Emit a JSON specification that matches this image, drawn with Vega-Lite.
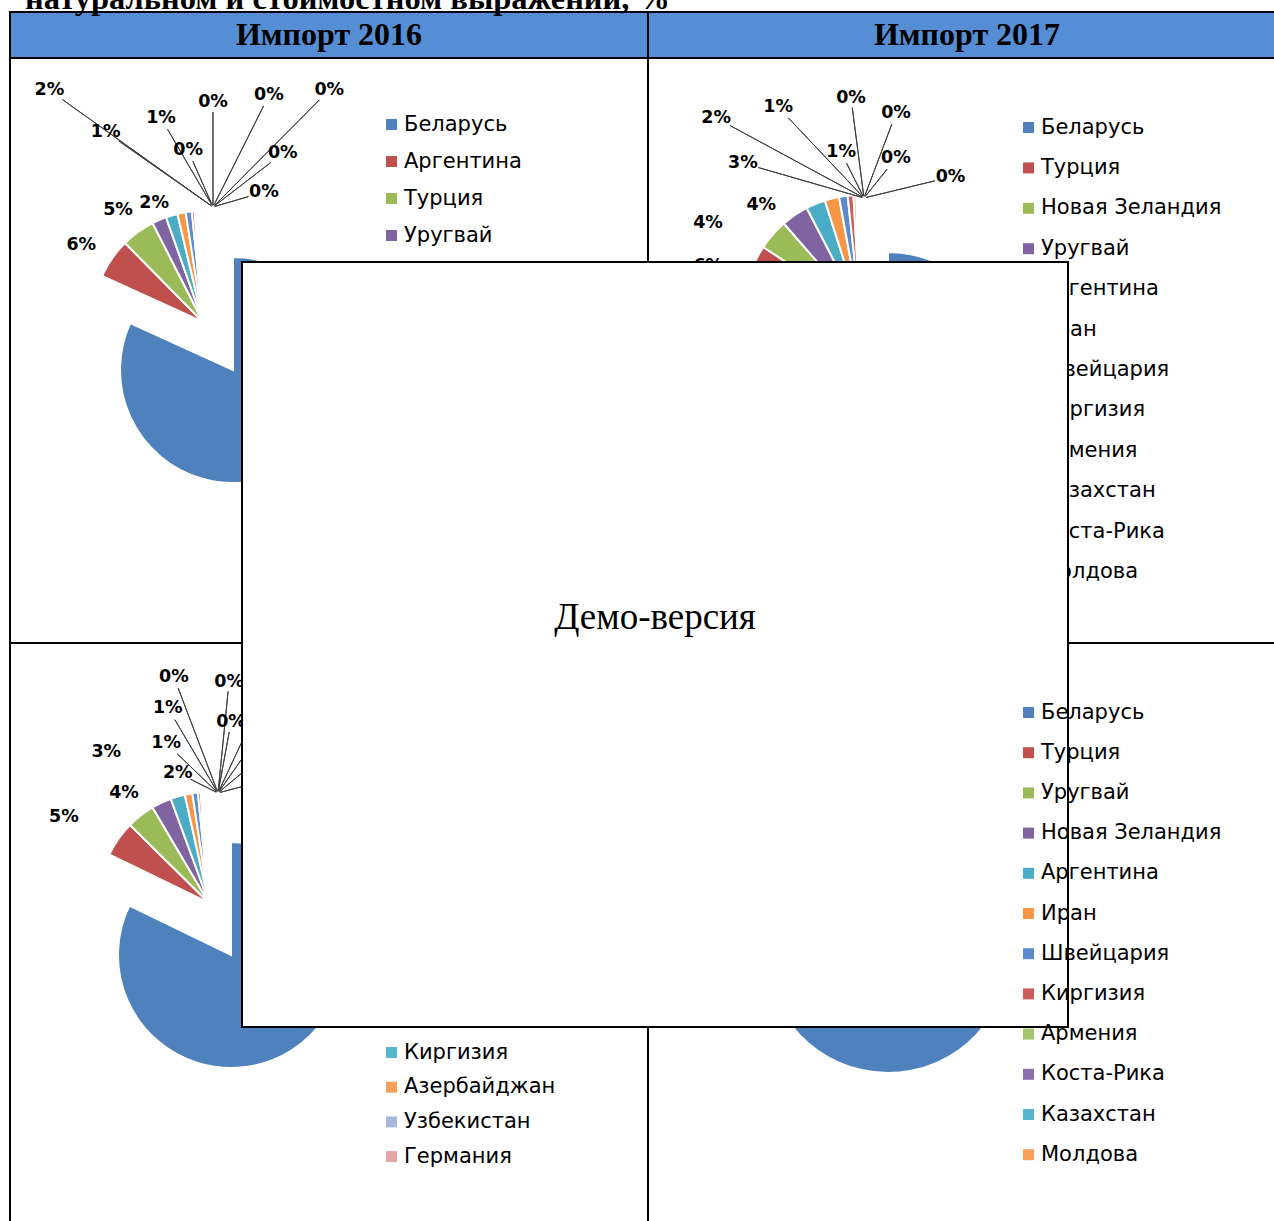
{
  "$schema": "https://vega.github.io/schema/vega-lite/v6.json",
  "padding": {"left": 9, "top": -18, "right": 0, "bottom": 0},
  "title": {"text": "натуральном и стоимостном выражении, %", "anchor": "start", "font": "Liberation Serif", "fontSize": 32.5, "fontWeight": "bold", "color": "#000", "offset": -30, "dx": 16, "baseline": "alphabetic"},
  "config": {"view": {"stroke": "#000", "strokeWidth": 2}, "concat": {"spacing": 0}},
  "datasets": {
    "imp2016": [
      {"country": "Беларусь", "share": 0.818, "order": 1},
      {"country": "Аргентина", "share": 0.058, "order": 2},
      {"country": "Турция", "share": 0.049, "order": 3},
      {"country": "Уругвай", "share": 0.021, "order": 4},
      {"country": "Новая Зеландия", "share": 0.017, "order": 5},
      {"country": "Киргизия", "share": 0.012, "order": 6},
      {"country": "Иран", "share": 0.009, "order": 7},
      {"country": "Армения", "share": 0.004, "order": 8},
      {"country": "Казахстан", "share": 0.003, "order": 9},
      {"country": "Азербайджан", "share": 0.003, "order": 10},
      {"country": "Швейцария", "share": 0.002, "order": 11},
      {"country": "Узбекистан", "share": 0.002, "order": 12},
      {"country": "Германия", "share": 0.002, "order": 13}
    ],
    "imp2017": [
      {"country": "Беларусь", "share": 0.781, "order": 1},
      {"country": "Турция", "share": 0.062, "order": 2},
      {"country": "Новая Зеландия", "share": 0.043, "order": 3},
      {"country": "Уругвай", "share": 0.038, "order": 4},
      {"country": "Аргентина", "share": 0.027, "order": 5},
      {"country": "Иран", "share": 0.020, "order": 6},
      {"country": "Швейцария", "share": 0.012, "order": 7},
      {"country": "Киргизия", "share": 0.008, "order": 8},
      {"country": "Армения", "share": 0.004, "order": 9},
      {"country": "Казахстан", "share": 0.002, "order": 10},
      {"country": "Коста-Рика", "share": 0.002, "order": 11},
      {"country": "Молдова", "share": 0.001, "order": 12}
    ],
    "val2016": [
      {"country": "Беларусь", "share": 0.822, "order": 1},
      {"country": "Аргентина", "share": 0.052, "order": 2},
      {"country": "Турция", "share": 0.041, "order": 3},
      {"country": "Уругвай", "share": 0.029, "order": 4},
      {"country": "Новая Зеландия", "share": 0.021, "order": 5},
      {"country": "Иран", "share": 0.011, "order": 6},
      {"country": "Армения", "share": 0.008, "order": 7},
      {"country": "Казахстан", "share": 0.004, "order": 8},
      {"country": "Швейцария", "share": 0.003, "order": 9},
      {"country": "Молдова", "share": 0.003, "order": 10},
      {"country": "Киргизия", "share": 0.002, "order": 11},
      {"country": "Азербайджан", "share": 0.002, "order": 12},
      {"country": "Узбекистан", "share": 0.001, "order": 13},
      {"country": "Германия", "share": 0.001, "order": 14}
    ],
    "val2017": [
      {"country": "Беларусь", "share": 0.800, "order": 1},
      {"country": "Турция", "share": 0.060, "order": 2},
      {"country": "Уругвай", "share": 0.040, "order": 3},
      {"country": "Новая Зеландия", "share": 0.030, "order": 4},
      {"country": "Аргентина", "share": 0.025, "order": 5},
      {"country": "Иран", "share": 0.015, "order": 6},
      {"country": "Швейцария", "share": 0.010, "order": 7},
      {"country": "Киргизия", "share": 0.008, "order": 8},
      {"country": "Армения", "share": 0.005, "order": 9},
      {"country": "Коста-Рика", "share": 0.003, "order": 10},
      {"country": "Казахстан", "share": 0.002, "order": 11},
      {"country": "Молдова", "share": 0.002, "order": 12}
    ]
  },
  "columns": 2,
  "spacing": 0,
  "bounds": "flush",
  "resolve": {"scale": {"color": "independent", "theta": "independent", "radius": "independent"}, "legend": {"color": "independent"}},
  "concat": [
    {
      "width": 638, "height": 46,
      "view": {"fill": "#558ED5", "stroke": "#000", "strokeWidth": 2},
      "data": {"values": [{"h": "Импорт 2016"}]},
      "mark": {"type": "text", "font": "Liberation Serif", "fontSize": 32, "fontWeight": "bold", "color": "#000"},
      "encoding": {"text": {"field": "h"}}
    },
    {
      "width": 638, "height": 46,
      "view": {"fill": "#558ED5", "stroke": "#000", "strokeWidth": 2},
      "data": {"values": [{"h": "Импорт 2017"}]},
      "mark": {"type": "text", "font": "Liberation Serif", "fontSize": 32, "fontWeight": "bold", "color": "#000"},
      "encoding": {"text": {"field": "h"}}
    },
    {
      "width": 638, "height": 585,
      "view": {"stroke": "#000", "strokeWidth": 2},
      "data": {"name": "imp2016"},
      "transform": [{"stack": "share", "groupby": [], "sort": [{"field": "order", "order": "ascending"}], "offset": "normalize", "as": ["t0", "t1"]}],
      "layer": [
        {
          "transform": [{"filter": "datum.order == 1"}],
          "mark": {"type": "arc", "x": 223, "y": 312, "radius": 113, "stroke": "#fff", "strokeWidth": 2},
          "encoding": {
            "theta": {"field": "t0", "type": "quantitative", "stack": null, "scale": {"domain": [0, 1], "range": [0, 6.2832]}},
            "theta2": {"field": "t1"},
            "color": {"field": "country", "type": "nominal",
              "scale": {"domain": ["Беларусь","Аргентина","Турция","Уругвай","Новая Зеландия","Киргизия","Иран","Армения","Казахстан","Азербайджан","Швейцария","Узбекистан","Германия"],
                        "range": ["#4F81BD","#C0504D","#9BBB59","#8064A2","#4BACC6","#F79646","#5B8BCB","#CB5D5A","#A5C46B","#8B70AE","#57B6CF","#F8A05A","#A7B8DD"]},
              "legend": {"orient": "none", "legendX": 371, "legendY": 56, "title": null, "symbolType": "square", "symbolSize": 121, "symbolStrokeWidth": 0, "labelFont": "DejaVu Sans", "labelFontSize": 21, "labelColor": "#000", "labelOffset": 2, "rowPadding": 15, "padding": 0, "labelLimit": 400}}
          }
        },
        {
          "transform": [{"filter": "datum.order > 1"}],
          "mark": {"type": "arc", "x": 193, "y": 264, "radius": 111, "stroke": "#fff", "strokeWidth": 2},
          "encoding": {
            "theta": {"field": "t0", "type": "quantitative", "stack": null, "scale": {"domain": [0, 1], "range": [0, 6.2832]}},
            "theta2": {"field": "t1"},
            "color": {"field": "country", "type": "nominal"}
          }
        },
        {
          "transform": [{"filter": "datum.order >= 5"}],
          "mark": {"type": "arc", "x": 203, "y": 149, "radius2": 2, "filled": false, "stroke": "#404040", "strokeWidth": 1},
          "encoding": {
            "theta": {"field": "order", "type": "quantitative", "stack": null, "scale": {"type": "linear", "zero": false, "nice": false, "domain": [5,6,7,8,9,10,11,12,13], "range": [-0.951,-0.960,-0.529,-0.414,0,0.464,0.782,0.915,1.285]}},
            "theta2": {"field": "order"},
            "radius": {"field": "order", "type": "quantitative", "scale": {"type": "linear", "zero": false, "nice": false, "domain": [5,6,7,8,9,10,11,12,13], "range": [185,115,90,50,95,113,151,73,37]}}
          }
        },
        {
          "mark": {"type": "text", "x": 203, "y": 149, "font": "DejaVu Sans", "fontWeight": "bold", "fontSize": 17.5, "color": "#000"},
          "encoding": {
            "theta": {"field": "order", "type": "quantitative", "stack": null, "scale": {"type": "linear", "zero": false, "nice": false, "domain": [1,2,3,4,5,6,7,8,9,10,11,12,13], "range": [2.635,-1.850,-1.602,-1.501,-0.951,-0.960,-0.529,-0.414,0,0.464,0.782,0.915,1.285]}},
            "radius": {"field": "order", "type": "quantitative", "scale": {"type": "linear", "zero": false, "nice": false, "domain": [1,2,3,4,5,6,7,8,9,10,11,12,13], "range": [243,137,95,59,201,131,103,62,105,125,165,88,53]}},
            "text": {"field": "share", "type": "quantitative", "format": ".0%"}
          }
        }
      ],
      "resolve": {"scale": {"theta": "independent", "radius": "independent"}}
    },
    {
      "width": 638, "height": 585,
      "view": {"stroke": "#000", "strokeWidth": 2},
      "data": {"name": "imp2017"},
      "transform": [{"stack": "share", "groupby": [], "sort": [{"field": "order", "order": "ascending"}], "offset": "normalize", "as": ["t0", "t1"]}],
      "layer": [
        {
          "transform": [{"filter": "datum.order == 1"}],
          "mark": {"type": "arc", "x": 240, "y": 312, "radius": 118, "stroke": "#fff", "strokeWidth": 2},
          "encoding": {
            "theta": {"field": "t0", "type": "quantitative", "stack": null, "scale": {"domain": [0, 1], "range": [0, 6.2832]}},
            "theta2": {"field": "t1"},
            "color": {"field": "country", "type": "nominal",
              "scale": {"domain": ["Беларусь","Турция","Новая Зеландия","Уругвай","Аргентина","Иран","Швейцария","Киргизия","Армения","Казахстан","Коста-Рика","Молдова"],
                        "range": ["#4F81BD","#C0504D","#9BBB59","#8064A2","#4BACC6","#F79646","#5B8BCB","#CB5D5A","#A5C46B","#8B70AE","#57B6CF","#F8A05A"]},
              "legend": {"orient": "none", "legendX": 370, "legendY": 59, "title": null, "symbolType": "square", "symbolSize": 121, "symbolStrokeWidth": 0, "labelFont": "DejaVu Sans", "labelFontSize": 21, "labelColor": "#000", "labelOffset": 2, "rowPadding": 18.4, "padding": 0, "labelLimit": 400}}
          }
        },
        {
          "transform": [{"filter": "datum.order > 1"}],
          "mark": {"type": "arc", "x": 212, "y": 253, "radius": 116, "stroke": "#fff", "strokeWidth": 2},
          "encoding": {
            "theta": {"field": "t0", "type": "quantitative", "stack": null, "scale": {"domain": [0, 1], "range": [0, 6.2832]}},
            "theta2": {"field": "t1"},
            "color": {"field": "country", "type": "nominal"}
          }
        },
        {
          "transform": [{"filter": "datum.order >= 5"}],
          "mark": {"type": "arc", "x": 216, "y": 140, "radius2": 2, "filled": false, "stroke": "#404040", "strokeWidth": 1},
          "encoding": {
            "theta": {"field": "order", "type": "quantitative", "stack": null, "scale": {"type": "linear", "zero": false, "nice": false, "domain": [5,6,7,8,9,10,11,12], "range": [-1.290,-1.075,-0.757,-0.464,-0.129,0.360,0.675,1.333]}},
            "theta2": {"field": "order"},
            "radius": {"field": "order", "type": "quantitative", "scale": {"type": "linear", "zero": false, "nice": false, "domain": [5,6,7,8,9,10,11,12], "range": [110,152,110,39,91,79,37,73]}}
          }
        },
        {
          "mark": {"type": "text", "x": 216, "y": 140, "font": "DejaVu Sans", "fontWeight": "bold", "fontSize": 17.5, "color": "#000"},
          "encoding": {
            "theta": {"field": "order", "type": "quantitative", "stack": null, "scale": {"type": "linear", "zero": false, "nice": false, "domain": [1,2,3,4,5,6,7,8,9,10,11,12], "range": [2.588,-1.983,-1.730,-1.639,-1.290,-1.075,-0.757,-0.464,-0.129,0.360,0.675,1.333]}},
            "radius": {"field": "order", "type": "quantitative", "scale": {"type": "linear", "zero": false, "nice": false, "domain": [1,2,3,4,5,6,7,8,9,10,11,12], "range": [261,170,158,103,126,168,125,51,101,91,51,89]}},
            "text": {"field": "share", "type": "quantitative", "format": ".0%"}
          }
        }
      ],
      "resolve": {"scale": {"theta": "independent", "radius": "independent"}}
    },
    {
      "width": 638, "height": 585,
      "view": {"stroke": "#000", "strokeWidth": 2},
      "data": {"name": "val2016"},
      "transform": [{"stack": "share", "groupby": [], "sort": [{"field": "order", "order": "ascending"}], "offset": "normalize", "as": ["t0", "t1"]}],
      "layer": [
        {
          "transform": [{"filter": "datum.order == 1"}],
          "mark": {"type": "arc", "x": 221, "y": 312, "radius": 113, "stroke": "#fff", "strokeWidth": 2},
          "encoding": {
            "theta": {"field": "t0", "type": "quantitative", "stack": null, "scale": {"domain": [0, 1], "range": [0, 6.2832]}},
            "theta2": {"field": "t1"},
            "color": {"field": "country", "type": "nominal",
              "scale": {"domain": ["Беларусь","Аргентина","Турция","Уругвай","Новая Зеландия","Иран","Армения","Казахстан","Швейцария","Молдова","Киргизия","Азербайджан","Узбекистан","Германия"],
                        "range": ["#4F81BD","#C0504D","#9BBB59","#8064A2","#4BACC6","#F79646","#5B8BCB","#CB5D5A","#A5C46B","#8B70AE","#57B6CF","#F8A05A","#A7B8DD","#E2A6A5"]},
              "legend": {"orient": "none", "legendX": 371, "legendY": 52, "title": null, "symbolType": "square", "symbolSize": 121, "symbolStrokeWidth": 0, "labelFont": "DejaVu Sans", "labelFontSize": 21, "labelColor": "#000", "labelOffset": 2, "rowPadding": 12.7, "padding": 0, "labelLimit": 400}}
          }
        },
        {
          "transform": [{"filter": "datum.order > 1"}],
          "mark": {"type": "arc", "x": 199, "y": 260, "radius": 111, "stroke": "#fff", "strokeWidth": 2},
          "encoding": {
            "theta": {"field": "t0", "type": "quantitative", "stack": null, "scale": {"domain": [0, 1], "range": [0, 6.2832]}},
            "theta2": {"field": "t1"},
            "color": {"field": "country", "type": "nominal"}
          }
        },
        {
          "transform": [{"filter": "datum.order >= 5"}],
          "mark": {"type": "arc", "x": 208, "y": 150, "radius2": 2, "filled": false, "stroke": "#404040", "strokeWidth": 1},
          "encoding": {
            "theta": {"field": "order", "type": "quantitative", "stack": null, "scale": {"type": "linear", "zero": false, "nice": false, "domain": [5,6,7,8,9,10,11,12,13,14], "range": [-1.107,-0.805,-0.532,-0.363,0.099,0.182,0.436,0.611,0.873,1.309]}},
            "theta2": {"field": "order"},
            "radius": {"field": "order", "type": "quantitative", "scale": {"type": "linear", "zero": false, "nice": false, "domain": [5,6,7,8,9,10,11,12,13,14], "range": [31,56,85,112,102,62,98,82,66,59]}}
          }
        },
        {
          "mark": {"type": "text", "x": 208, "y": 150, "font": "DejaVu Sans", "fontWeight": "bold", "fontSize": 17.5, "color": "#000"},
          "encoding": {
            "theta": {"field": "order", "type": "quantitative", "stack": null, "scale": {"type": "linear", "zero": false, "nice": false, "domain": [1,2,3,4,5,6,7,8,9,10,11,12,13,14], "range": [2.524,-1.726,-1.571,-1.220,-1.107,-0.805,-0.532,-0.363,0.099,0.182,0.436,0.611,0.873,1.309]}},
            "radius": {"field": "order", "type": "quantitative", "scale": {"type": "linear", "zero": false, "nice": false, "domain": [1,2,3,4,5,6,7,8,9,10,11,12,13,14], "range": [229,156,94,119,45,72,99,124,112,72,110,95,80,75]}},
            "text": {"field": "share", "type": "quantitative", "format": ".0%"}
          }
        }
      ],
      "resolve": {"scale": {"theta": "independent", "radius": "independent"}}
    },
    {
      "width": 638, "height": 585,
      "view": {"stroke": "#000", "strokeWidth": 2},
      "data": {"name": "val2017"},
      "transform": [{"stack": "share", "groupby": [], "sort": [{"field": "order", "order": "ascending"}], "offset": "normalize", "as": ["t0", "t1"]}],
      "layer": [
        {
          "transform": [{"filter": "datum.order == 1"}],
          "mark": {"type": "arc", "x": 240, "y": 308, "radius": 122, "stroke": "#fff", "strokeWidth": 2},
          "encoding": {
            "theta": {"field": "t0", "type": "quantitative", "stack": null, "scale": {"domain": [0, 1], "range": [0, 6.2832]}},
            "theta2": {"field": "t1"},
            "color": {"field": "country", "type": "nominal",
              "scale": {"domain": ["Беларусь","Турция","Уругвай","Новая Зеландия","Аргентина","Иран","Швейцария","Киргизия","Армения","Коста-Рика","Казахстан","Молдова"],
                        "range": ["#4F81BD","#C0504D","#9BBB59","#8064A2","#4BACC6","#F79646","#5B8BCB","#CB5D5A","#A5C46B","#8B70AE","#57B6CF","#F8A05A"]},
              "legend": {"orient": "none", "legendX": 370, "legendY": 59, "title": null, "symbolType": "square", "symbolSize": 121, "symbolStrokeWidth": 0, "labelFont": "DejaVu Sans", "labelFontSize": 21, "labelColor": "#000", "labelOffset": 2, "rowPadding": 18.2, "padding": 0, "labelLimit": 400}}
          }
        },
        {
          "transform": [{"filter": "datum.order > 1"}],
          "mark": {"type": "arc", "x": 215, "y": 253, "radius": 118, "stroke": "#fff", "strokeWidth": 2},
          "encoding": {
            "theta": {"field": "t0", "type": "quantitative", "stack": null, "scale": {"domain": [0, 1], "range": [0, 6.2832]}},
            "theta2": {"field": "t1"},
            "color": {"field": "country", "type": "nominal"}
          }
        },
        {
          "transform": [{"filter": "datum.order >= 5"}],
          "mark": {"type": "arc", "x": 216, "y": 140, "radius2": 2, "filled": false, "stroke": "#404040", "strokeWidth": 1},
          "encoding": {
            "theta": {"field": "order", "type": "quantitative", "stack": null, "scale": {"type": "linear", "zero": false, "nice": false, "domain": [5,6,7,8,9,10,11,12], "range": [-1.290,-1.075,-0.757,-0.464,-0.129,0.360,0.675,1.333]}},
            "theta2": {"field": "order"},
            "radius": {"field": "order", "type": "quantitative", "scale": {"type": "linear", "zero": false, "nice": false, "domain": [5,6,7,8,9,10,11,12], "range": [110,152,110,39,91,79,37,73]}}
          }
        },
        {
          "mark": {"type": "text", "x": 216, "y": 140, "font": "DejaVu Sans", "fontWeight": "bold", "fontSize": 17.5, "color": "#000"},
          "encoding": {
            "theta": {"field": "order", "type": "quantitative", "stack": null, "scale": {"type": "linear", "zero": false, "nice": false, "domain": [1,2,3,4,5,6,7,8,9,10,11,12], "range": [2.588,-1.983,-1.730,-1.639,-1.290,-1.075,-0.757,-0.464,-0.129,0.360,0.675,1.333]}},
            "radius": {"field": "order", "type": "quantitative", "scale": {"type": "linear", "zero": false, "nice": false, "domain": [1,2,3,4,5,6,7,8,9,10,11,12], "range": [261,170,158,103,126,168,125,51,101,91,51,89]}},
            "text": {"field": "share", "type": "quantitative", "format": ".0%"}
          }
        },
        {
          "data": {"values": [{"note": "Демо-версия"}]},
          "mark": {"type": "rect", "x": -406, "x2": 420, "y": -381, "y2": 384, "fill": "#fff", "stroke": "#000", "strokeWidth": 2},
          "encoding": {}
        },
        {
          "data": {"values": [{"note": "Демо-версия"}]},
          "mark": {"type": "text", "x": 7, "y": -25, "font": "Liberation Serif", "fontSize": 37, "color": "#000"},
          "encoding": {"text": {"field": "note"}}
        }
      ],
      "resolve": {"scale": {"theta": "independent", "radius": "independent"}}
    }
  ]
}
